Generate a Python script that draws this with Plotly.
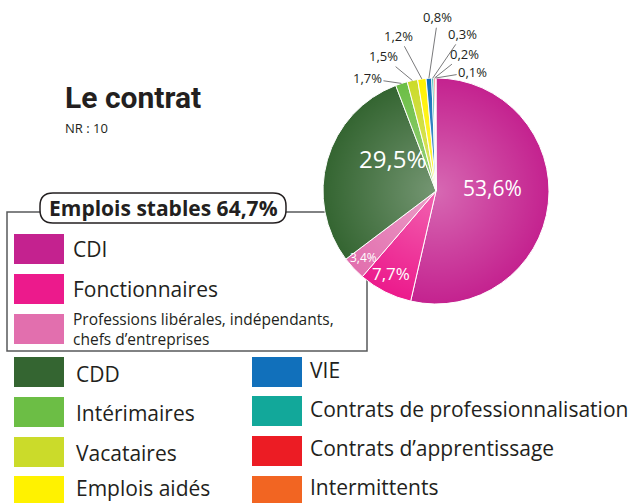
import base64
import math
import plotly.graph_objects as go

# ---------------- data ----------------
categories = [
    "CDI",
    "Fonctionnaires",
    "Professions libérales, indépendants, chefs d’entreprises",
    "CDD",
    "Intérimaires",
    "Vacataires",
    "Emplois aidés",
    "VIE",
    "Contrats de professionnalisation",
    "Contrats d’apprentissage",
    "Intermittents",
]
values = [53.6, 7.7, 3.4, 29.5, 1.7, 1.5, 1.2, 0.8, 0.3, 0.2, 0.1]
colors = [
    "#C4228F", "#EC1A8C", "#E26FAE", "#346531", "#6CBE45", "#CBDB2A",
    "#FFF200", "#1170BB", "#12A89A", "#EC1C24", "#F26522",
]
stable_count = 3  # first three categories = "Emplois stables"
title_text = "Le contrat"
subtitle_text = "NR : 10"

# ---------------- geometry helpers (pixels -> paper) ----------------
W, H = 630, 503
CX, CY, R = 436, 191, 113


def px(x):
    return x / W


def py(y):
    return 1 - y / H


def fmt(v):
    return f"{v:.1f}".replace(".", ",") + "%"


FONT = "Open Sans"
DARK = "#231F20"

fig = go.Figure()
fig.add_trace(go.Pie(
    labels=categories,
    values=values,
    sort=False,
    direction="clockwise",
    rotation=0,
    textinfo="none",
    showlegend=False,
    marker=dict(colors=colors, line=dict(color="white", width=1)),
    domain=dict(x=[px(CX - R), px(CX + R)], y=[py(CY + R), py(CY - R)]),
))

# slice mid angles (deg from 12 o'clock, clockwise)
total = sum(values)
mids = []
acc = 0.0
for v in values:
    mids.append((acc + v / 2) / total * 360)
    acc += v


def polar(angle_deg, rfrac):
    a = math.radians(angle_deg)
    return CX + rfrac * R * math.sin(a), CY - rfrac * R * math.cos(a)


annotations = []
shapes = []

# inside labels: (index, radius fraction, angle nudge, font size)
inside = [(0, 0.50, -10, 21), (1, 0.83, 2, 17), (2, 0.87, 0.6, 12), (3, 0.48, 21, 24)]
for i, rf, nudge, fs in inside:
    x, y = polar(mids[i] + nudge, rf)
    annotations.append(dict(x=px(x), y=py(y), xref="paper", yref="paper",
                            xanchor="center", yanchor="middle",
                            text=fmt(values[i]), showarrow=False,
                            font=dict(family=FONT, size=fs, color="white")))

# outside labels with leader lines: (index, ax, ay)
outside = [(4, -34, -5), (5, -29, -24), (6, -23, -43), (7, 9, -61),
           (8, 30, -44), (9, 30, -24), (10, 37, -6)]
for i, ax, ay in outside:
    x, y = polar(mids[i], 1.0)
    annotations.append(dict(x=px(x), y=py(y), xref="paper", yref="paper",
                            xanchor="center", yanchor="middle", borderpad=0,
                            text=fmt(values[i]), showarrow=True, arrowhead=0,
                            arrowwidth=1, arrowcolor="#7a7a7c", ax=ax, ay=ay,
                            standoff=0, startstandoff=1,
                            font=dict(family=FONT, size=13, color=DARK)))

# radial shading over the pie
svg = (
    "<svg xmlns='http://www.w3.org/2000/svg' width='226' height='226'>"
    "<defs><radialGradient id='g' cx='0.5' cy='0.5' r='0.5'>"
    "<stop offset='0' stop-color='white' stop-opacity='0.32'/>"
    "<stop offset='0.55' stop-color='white' stop-opacity='0.14'/>"
    "<stop offset='1' stop-color='white' stop-opacity='0'/>"
    "</radialGradient></defs>"
    "<circle cx='113' cy='113' r='113' fill='url(#g)'/></svg>"
)
src = "data:image/svg+xml;base64," + base64.b64encode(svg.encode()).decode()
images = [dict(source=src, xref="paper", yref="paper", x=px(CX - R), y=py(CY - R),
               sizex=2 * R / W, sizey=2 * R / H, xanchor="left", yanchor="top",
               sizing="stretch", layer="above")]

# title
annotations.append(dict(x=px(63), y=py(97), xref="paper", yref="paper",
                        xanchor="left", yanchor="middle",
                        text=f"<b>{title_text}</b>", showarrow=False,
                        font=dict(family="Roboto", size=30, color=DARK, weight=900)))
annotations.append(dict(x=px(63), y=py(128), xref="paper", yref="paper",
                        xanchor="left", yanchor="middle",
                        text=subtitle_text, showarrow=False,
                        font=dict(family=FONT, size=13, color=DARK)))

# group box
bx0, bx1, by0, by1 = 7, 367, 212, 351
shapes.append(dict(type="rect", xref="paper", yref="paper", layer="below",
                   x0=px(bx0), x1=px(bx1), y0=py(by1), y1=py(by0),
                   line=dict(color="#58595B", width=1.5), fillcolor="rgba(0,0,0,0)"))
# pill
x0, x1, y0, y1, r = 40, 286, 193, 223, 13


def P(x, y):
    return f"{px(x):.5f},{py(y):.5f}"


path = (f"M {P(x0 + r, y0)} L {P(x1 - r, y0)} Q {P(x1, y0)} {P(x1, y0 + r)} "
        f"L {P(x1, y1 - r)} Q {P(x1, y1)} {P(x1 - r, y1)} L {P(x0 + r, y1)} "
        f"Q {P(x0, y1)} {P(x0, y1 - r)} L {P(x0, y0 + r)} Q {P(x0, y0)} {P(x0 + r, y0)} Z")
shapes.append(dict(type="path", path=path, xref="paper", yref="paper", layer="below",
                   fillcolor="white", line=dict(color=DARK, width=1.5)))
stable_total = sum(values[:stable_count])
annotations.append(dict(x=px((x0 + x1) / 2), y=py(208), xref="paper", yref="paper",
                        xanchor="center", yanchor="middle",
                        text=f"<b>Emplois stables {fmt(stable_total)}</b>", showarrow=False,
                        font=dict(family=FONT, size=21, color=DARK)))

# legend entries: (swatch x0, swatch top, text x, text center y, font size)
legend_pos = [
    (14, 234, 71, 249, 21),
    (14, 274, 71, 289, 21),
    (14, 314, 71, 329, 15.5),
    (14, 357, 74, 374, 21),
    (14, 397, 74, 413, 21),
    (14, 437, 74, 453, 21),
    (14, 476, 74, 488, 21),
    (252, 357, 308, 370, 21),
    (252, 396, 308, 409, 21),
    (252, 436, 308, 448, 21),
    (252, 476, 308, 487, 21),
]
for i, (sx, sy, tx, ty, fs) in enumerate(legend_pos):
    shapes.append(dict(type="rect", xref="paper", yref="paper", layer="below",
                       x0=px(sx), x1=px(sx + 50), y0=py(min(sy + 30, H)), y1=py(sy),
                       fillcolor=colors[i], line=dict(width=0)))
    label = categories[i]
    if i == 2:
        label = label.replace("indépendants, ", "indépendants,<br>")
    annotations.append(dict(x=px(tx), y=py(ty), xref="paper", yref="paper",
                            xanchor="left", yanchor="middle", align="left",
                            text=label, showarrow=False,
                            font=dict(family=FONT, size=fs, color=DARK)))

fig.update_layout(
    width=W, height=H,
    margin=dict(l=0, r=0, t=0, b=0),
    paper_bgcolor="white", plot_bgcolor="white",
    annotations=annotations, shapes=shapes, images=images,
    showlegend=False,
)
fig.write_html("out.html", config={"displayModeBar": False},
               post_script="document.body.style.margin='0';document.body.style.overflow='hidden';")
